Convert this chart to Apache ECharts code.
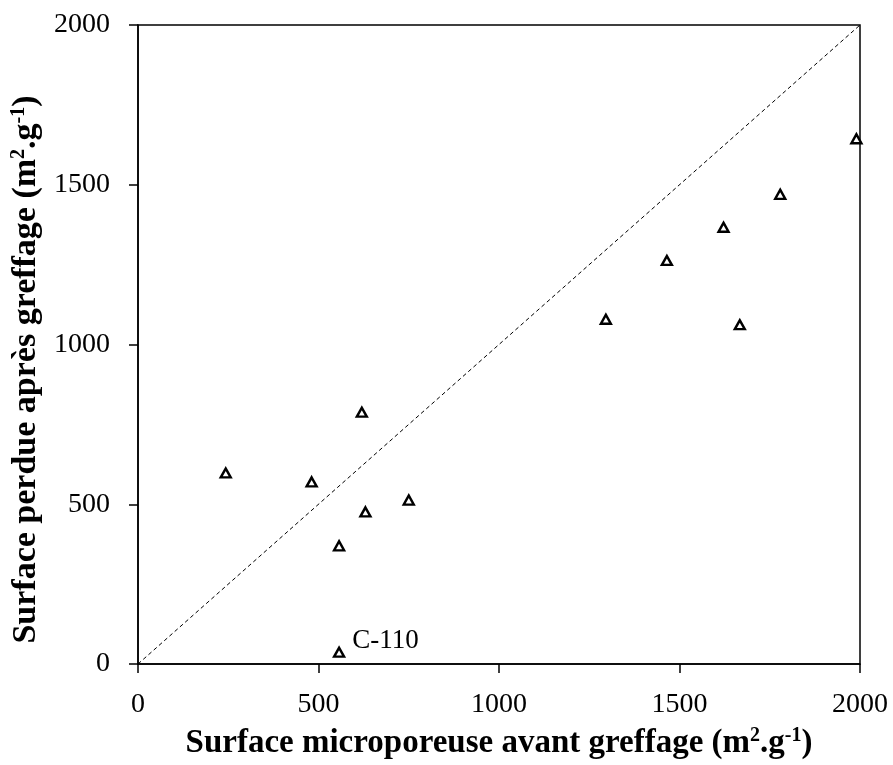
<!DOCTYPE html>
<html>
<head>
<meta charset="utf-8">
<script src="https://cdn.jsdelivr.net/npm/echarts@6/dist/echarts.min.js"></script>
<style>html,body{margin:0;padding:0;background:#fff}#c{width:893px;height:765px}</style>
</head>
<body>
<div id="c"></div>
<script>
var xValues = [243, 481, 620, 630, 750, 557, 557, 1990, 1779, 1622, 1465, 1296, 1667];
var yValues = [598, 570, 788, 476, 513, 370, 37, 1644, 1470, 1367, 1263, 1079, 1062];
var pointNames = ['', '', '', '', '', '', 'C-110', '', '', '', '', '', ''];
var diagonal = [[0, 0], [2000, 2000]];
var axisMin = 0, axisMax = 2000, axisStep = 500;

var font = 'Liberation Serif';
var pts = xValues.map(function (x, i) {
  var d = { value: [x, yValues[i]], name: pointNames[i] };
  if (pointNames[i]) {
    d.label = { show: true, position: 'right', offset: [2, -11], formatter: '{b}',
      fontFamily: font, fontSize: 27, color: '#000' };
  }
  return d;
});
function nameStyle(size, pad) {
  return {
    fontFamily: font, fontSize: size, fontWeight: 'bold', color: '#000', lineHeight: 34, padding: pad,
    rich: { sup: { fontFamily: font, fontSize: 20, fontWeight: 'bold', color: '#000', lineHeight: 20, verticalAlign: 'top' } }
  };
}
var fmt = function (v) { return String(v); };
var chart = echarts.init(document.getElementById('c'));
chart.setOption({
  animation: false,
  backgroundColor: '#fff',
  grid: { left: 138, right: 33, top: 25, bottom: 95, show: true, borderColor: '#000', borderWidth: 1.5 },
  xAxis: {
    type: 'value', min: axisMin, max: axisMax, interval: axisStep,
    name: 'Surface microporeuse avant greffage (m{sup|2}.g{sup|-1})',
    nameLocation: 'middle', nameGap: 62, nameTextStyle: nameStyle(33, 0),
    splitLine: { show: false },
    axisLine: { lineStyle: { color: '#000', width: 1.5 } },
    axisTick: { inside: false, length: 9, lineStyle: { color: '#000', width: 1.5 } },
    axisLabel: { fontFamily: font, fontSize: 28, color: '#000', margin: 27, formatter: fmt }
  },
  yAxis: {
    type: 'value', min: axisMin, max: axisMax, interval: axisStep,
    name: 'Surface perdue après greffage (m{sup|2}.g{sup|-1})',
    nameLocation: 'middle', nameGap: 86, nameTextStyle: nameStyle(34, [0, 50, 0, 0]),
    splitLine: { show: false },
    axisLine: { lineStyle: { color: '#000', width: 1.5 } },
    axisTick: { inside: false, length: 9, lineStyle: { color: '#000', width: 1.5 } },
    axisLabel: { fontFamily: font, fontSize: 28, color: '#000', margin: 28, formatter: fmt }
  },
  series: [
    {
      type: 'line', data: diagonal, symbol: 'none', silent: true,
      lineStyle: { color: '#000', width: 1, type: [4, 3] }
    },
    {
      type: 'scatter', data: pts, symbol: 'triangle', symbolSize: [10, 9],
      itemStyle: { color: '#fff', borderColor: '#000', borderWidth: 2.4, opacity: 1 }
    }
  ]
});
</script>
</body>
</html>
